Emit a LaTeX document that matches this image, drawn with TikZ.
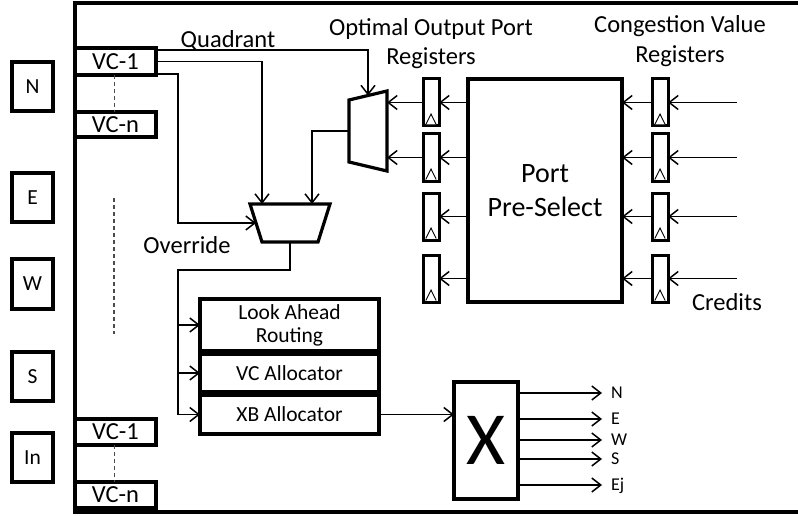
\documentclass[tikz,border=0pt]{standalone}
\usepackage{fontspec}
\setmainfont{Carlito}
\usetikzlibrary{arrows.meta,calc}
\begin{document}
\begin{tikzpicture}[x=1pt,y=-1pt,
  thinln/.style={line width=1.5pt},
  arr/.style={thinln,-{Straight Barb[length=9pt,width=14pt,line width=1.5pt]}},
  box/.style={draw,line width=3.2pt,inner sep=0pt,outer sep=0pt,anchor=north west},
  reg/.style={draw,line width=3pt,inner sep=0pt,outer sep=0pt,anchor=north west,minimum width=16pt,minimum height=47pt},
  dsh/.style={line width=1.1pt,draw=black!70,dash pattern=on 4pt off 3pt},
  big/.style={font=\fontsize{24.5}{29}\selectfont},
  mid/.style={font=\fontsize{21.5}{25}\selectfont},
  sml/.style={font=\fontsize{18}{20}\selectfont},
  lbl/.style={inner sep=0pt,anchor=base}
]
\useasboundingbox (0,0) rectangle (798,516);
% outer frame
\draw[line width=3.4pt] (798,3) -- (75,3) -- (75,512) -- (798,512);

% port boxes on the left
\node[box,mid,minimum width=41pt,minimum height=49pt] (pN) at (12,62) {N};
\node[box,mid,minimum width=41pt,minimum height=49pt] (pE) at (12,173) {E};
\node[box,mid,minimum width=41pt,minimum height=50pt] (pW) at (12,259) {W};
\node[box,mid,minimum width=41pt,minimum height=49pt] (pS) at (12,352) {S};
\node[box,mid,minimum width=41pt,minimum height=49pt] (pIn) at (12,433) {In};

% VC buffers
\node[box,big,minimum width=81pt,minimum height=27pt] (vc1) at (75,48) {VC-1};
\node[box,big,minimum width=81pt,minimum height=25pt] (vcn) at (75,112) {VC-n};
\node[box,big,minimum width=81pt,minimum height=26pt] (vcb1) at (75,419) {VC-1};
\node[box,big,minimum width=81pt,minimum height=26pt] (vcbn) at (75,482) {VC-n};
\draw[dsh] ($(vc1.south)+(-1,0)$) -- ($(vcn.north)+(-1,0)$);
\draw[dsh] ($(vcb1.south)+(-1,0)$) -- ($(vcbn.north)+(-1,0)$);
\coordinate (dA) at (114,198);
\coordinate (dB) at (114,334);
\draw[dsh] (dA) -- (dB);

% upper mux
\coordinate (mA1) at (349,100);
\coordinate (mA2) at (387,91);
\coordinate (mA3) at (387,171);
\coordinate (mA4) at (349,162);
\draw[line width=3.2pt,line join=miter] (mA1) -- (mA2) -- (mA3) -- (mA4) -- cycle;
\coordinate (mAtop) at (368,95.5);
\coordinate (mAl) at (349,131);
\coordinate (mAr) at (387,131);

% lower mux
\coordinate (mB1) at (250,204);
\coordinate (mB2) at (330,204);
\coordinate (mB3) at (318,242);
\coordinate (mB4) at (262,242);
\draw[line width=3.2pt,line join=miter] (mB1) -- (mB2) -- (mB3) -- (mB4) -- cycle;
\coordinate (mBin1) at (262,204);
\coordinate (mBin2) at (312,204);
\coordinate (mBl) at (256,223);
\coordinate (mBo) at (290,242);

% labels
\node[big,lbl] (tq) at (228,48) {Quadrant};
\node[big,lbl] (to1) at (431,36) {Optimal Output Port};
\node[big,lbl] (to2) at (431,65) {Registers};
\node[big,lbl] (tc1) at (680,33) {Congestion Value};
\node[big,lbl] (tc2) at (680,63) {Registers};
\node[big,lbl] (tov) at (187,253) {Override};
\node[big,lbl] (tcr) at (727,310) {Credits};

% connectors from VC-1
\draw[arr] ($(vc1.north east)+(0,2)$) -| (mAtop);
\draw[arr] (vc1.east) -| (mBin1);
\coordinate (tA) at (178,223);
\draw[arr] ($(vc1.south east)+(0,-1)$) -| (tA) -- (mBl);
\draw[arr] (mAl) -| (mBin2);

% allocator boxes
\node[box,mid,align=center,minimum width=179pt,minimum height=52pt] (lar) at (200,299) {Look Ahead\\[-2pt]Routing};
\node[box,mid,minimum width=179pt,minimum height=38pt] (vca) at (200,354) {VC Allocator};
\node[box,mid,minimum width=179pt,minimum height=39pt] (xba) at (200,395) {XB Allocator};
\coordinate (bus) at (178,270);
\draw[thinln] (mBo) |- (bus) -- (bus |- xba.west);
\draw[arr] (bus |- lar.west) -- (lar.west);
\draw[arr] (bus |- vca.west) -- (vca.west);
\draw[arr] (bus |- xba.west) -- (xba.west);

% crossbar
\node[box,font=\fontsize{75}{75}\selectfont,minimum width=64pt,minimum height=117pt] (X) at (454,382) {X};
\draw[arr] (xba.east) -- (X.west |- xba.east);
\foreach \n/\t/\y in {oN/N/393,oE/E/419,oW/W/440,oS/S/459,oEj/Ej/485}{
  \node[sml,anchor=west,inner sep=0pt,text height=11.5pt,text depth=0pt] (\n) at (611,\y) {\t};
  \draw[arr,shorten >=9pt] (X.east |- \n.west) -- (\n.west);
}

% port pre-select
\node[box,align=center,font=\fontsize{28}{34}\selectfont,minimum width=154pt,minimum height=223pt] (pps) at (468,79) {Port\\Pre-Select};

% registers
\coordinate (cx) at (737,0);
\foreach \i/\y in {1/79,2/134,3/193,4/255}{
  \node[reg] (rL\i) at (423,\y) {};
  \node[reg] (rR\i) at (652,\y) {};
  \foreach \r in {rL\i,rR\i}{
    \draw[line width=0.9pt,fill=white] ($(\r.south west)+(2.8,-1.5)$) -- ($(\r.south)+(0,-12)$) -- ($(\r.south east)+(-2.8,-1.5)$);
  }
  \draw[arr] (pps.west |- rL\i.center) -- (rL\i.east);
  \draw[arr] (rR\i.west) -- (pps.east |- rR\i.center);
  \draw[arr] (cx |- rR\i.center) -- (rR\i.east);
}
\draw[arr] (rL1.west) -- (mAr |- rL1.west);
\draw[arr] (rL2.west) -- (mAr |- rL2.west);
\end{tikzpicture}
\end{document}
